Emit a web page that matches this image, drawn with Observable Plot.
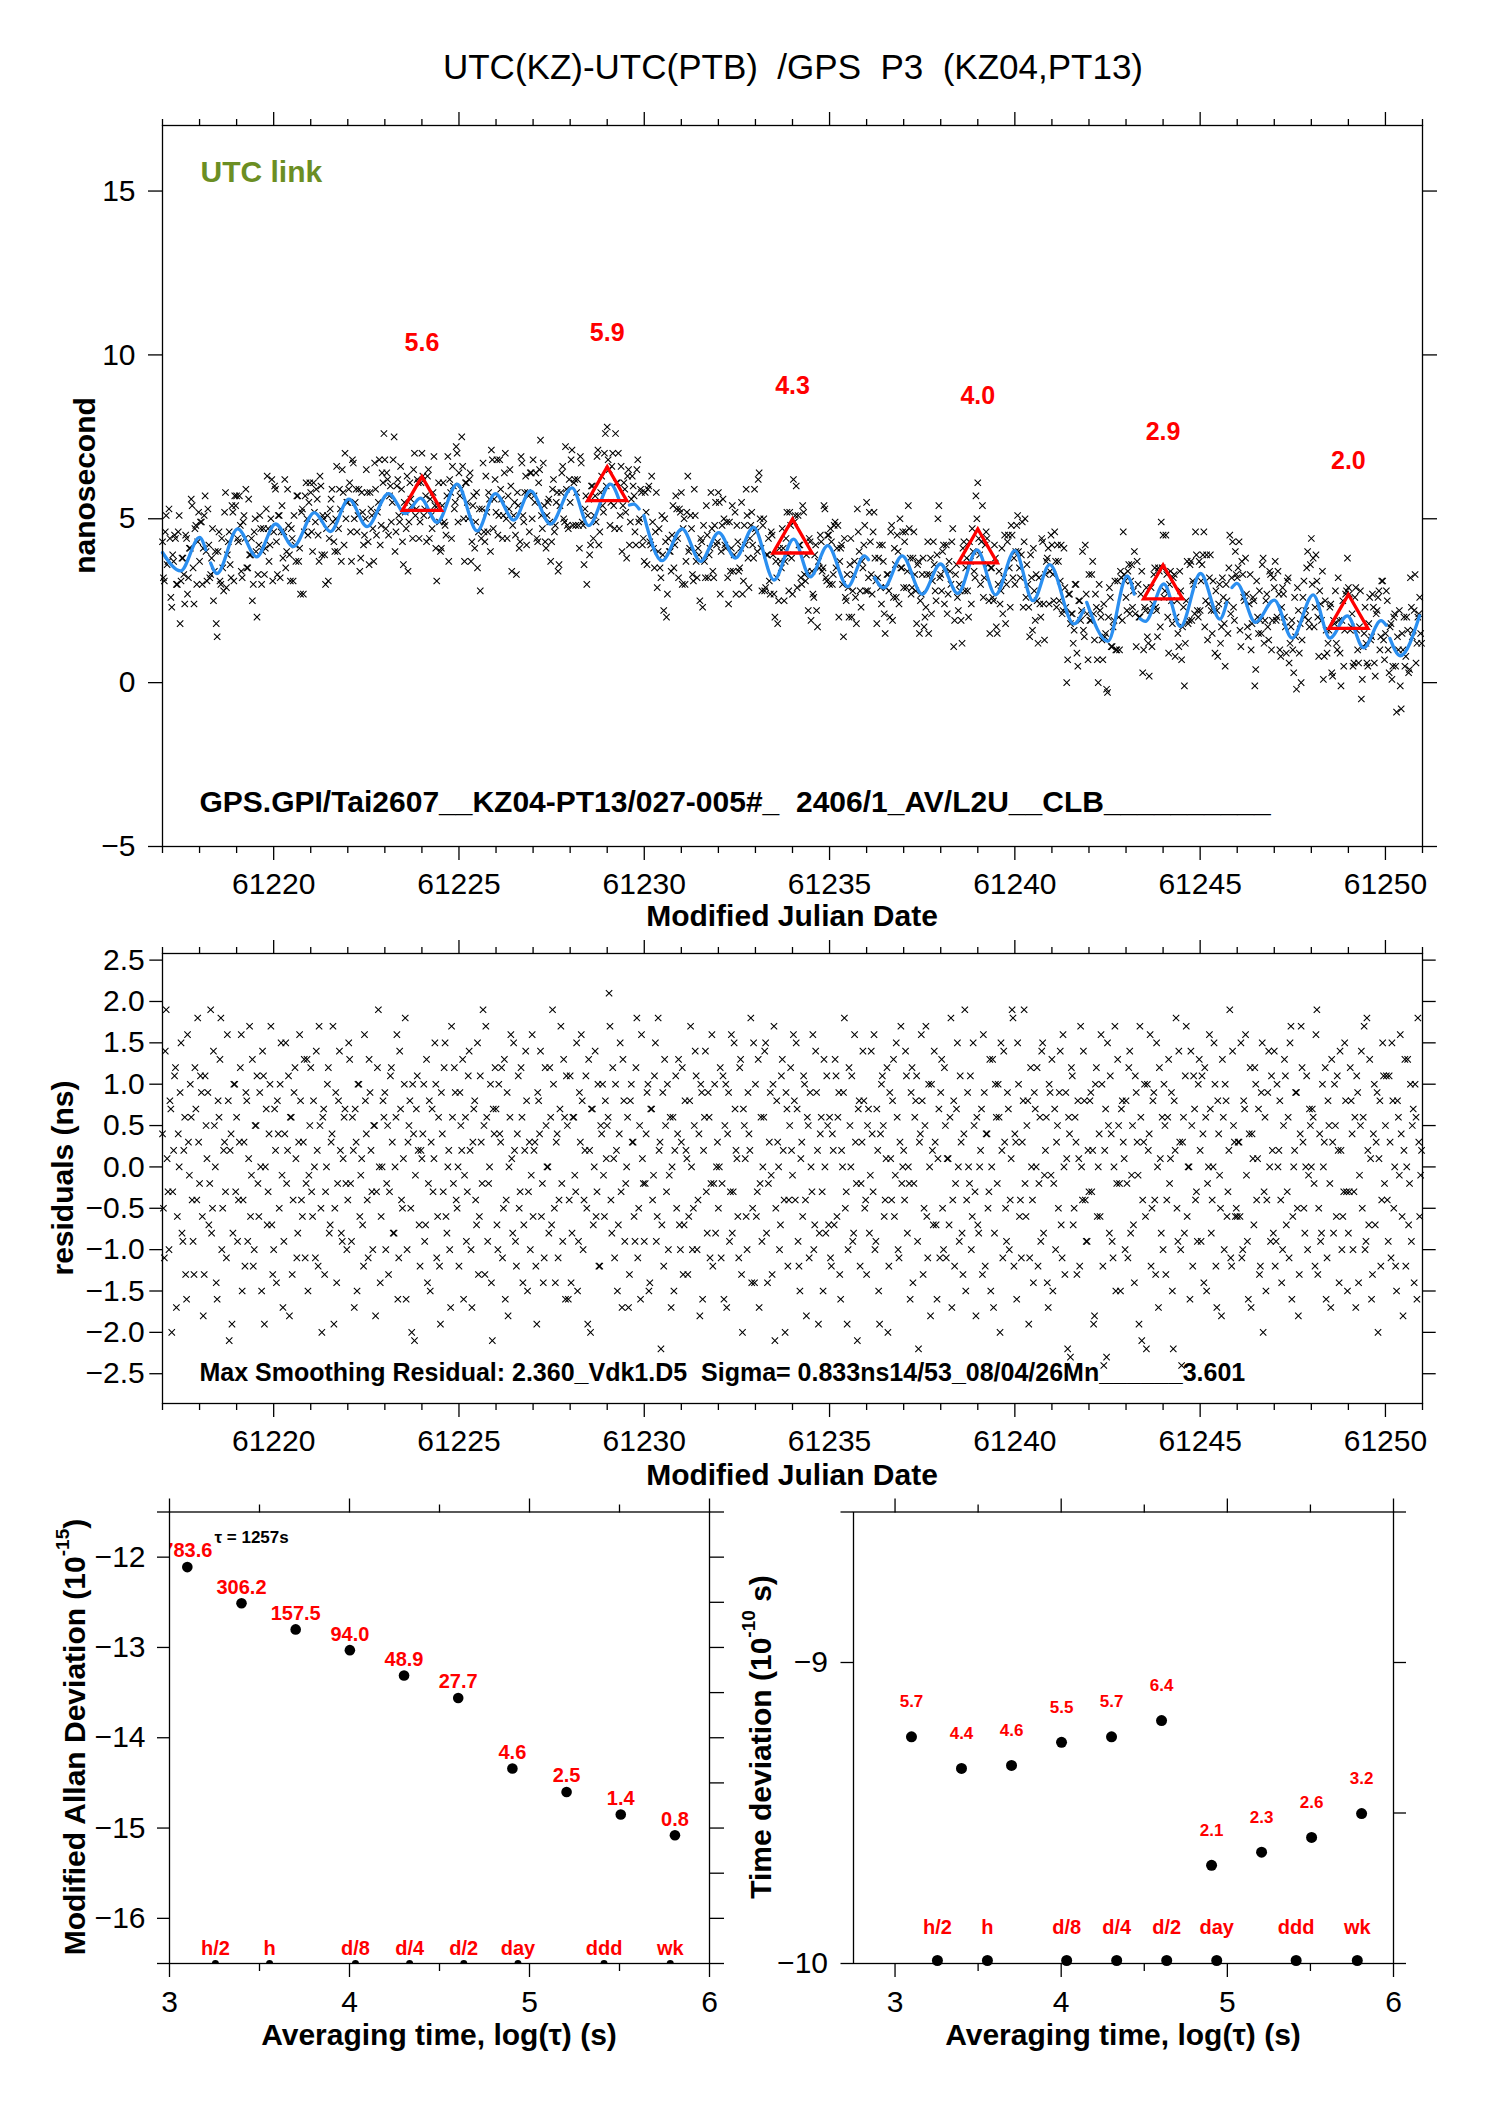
<!DOCTYPE html>
<html>
<head>
<meta charset="utf-8">
<script src="https://cdn.jsdelivr.net/npm/d3@7"></script>
<script src="https://cdn.jsdelivr.net/npm/@observablehq/plot@0.6"></script>
<style>
  body { margin: 0; background: #fff; }
  #wrap { position: relative; width: 1488px; height: 2105px; font-family: "Liberation Sans", Arial, Helvetica, sans-serif; color: #000; }
  #wrap svg { position: absolute; overflow: visible; }
  #wrap text { white-space: pre; }
  #title { position: absolute; left: 793px; top: 47px; transform: translateX(-50%); font-size: 35px; line-height: 40px; white-space: pre; }
</style>
</head>
<body>
<div id="wrap"><div id="title"></div></div>
<script>
// ---------------- text ----------------
const titleText = "UTC(KZ)-UTC(PTB)  /GPS  P3  (KZ04,PT13)";
const linkLabel = "UTC link";
const gpsNote = "GPS.GPI/Tai2607__KZ04-PT13/027-005#_  2406/1_AV/L2U__CLB__________";
const residNote = "Max Smoothing Residual: 2.360_Vdk1.D5  Sigma= 0.833ns14/53_08/04/26Mn______3.601";
const tauNote = "\u03c4 = 1257s";

// ---------------- ticks ----------------
const mjdMajor = [61220, 61225, 61230, 61235, 61240, 61245, 61250];
const mjdMinor = [61217, 61218, 61219, 61221, 61222, 61223, 61224, 61226, 61227, 61228, 61229, 61231, 61232, 61233, 61234, 61236, 61237, 61238, 61239, 61241, 61242, 61243, 61244, 61246, 61247, 61248, 61249, 61251];
const nsTicks = [-5, 0, 5, 10, 15];
const residTicks = [-2.5, -2, -1.5, -1, -0.5, 0, 0.5, 1, 1.5, 2, 2.5];
const logMajor = [3, 4, 5, 6];
const logMinor = [3.5, 4.5, 5.5];
const mdevTicks = [-16, -15, -14, -13, -12];
const mdevEnds = [-16.5, -11.5];
const mdevRight = [-16.5, -16, -15.5, -15, -14.5, -14, -13.5, -13, -12.5, -12, -11.5];
const tdevTicks = [-10, -9];
const tdevEnds = [-8.5];
const tdevRight = [-10, -9.5, -9, -8.5];

// ---------------- top panel data ----------------
// two interleaved sets of epochs: 20 per day from MJD 61217.000 and from 61217.025
const sampleStart = 61217;
const sampleStart2 = 61217.025;
const samplesPerDay = 20;
const topValues = [
  4.3,3.1,5.1,3.7,4.4,2.3,3.7,4.4,3.0,5.1,3.1,3.8,2.4,4.4,3.2,4.1,5.4,2.4,4.8,4.3,
  3.7,4.9,4.1,5.7,3.1,4.2,3.3,4.7,3.4,1.8,4.0,3.1,4.4,2.8,5.8,3.9,4.6,3.2,5.2,5.7,
  5.7,4.3,4.8,3.2,5.1,5.9,3.5,3.9,4.4,3.0,5.0,2.0,4.2,4.7,4.0,3.3,5.3,4.7,4.2,6.2,
  4.6,5.9,3.3,5.1,4.6,3.8,6.2,4.0,4.8,3.1,4.4,5.1,3.7,5.7,4.1,5.2,2.7,5.7,5.0,5.5,
  5.8,4.0,5.2,5.9,4.5,6.3,3.9,5.0,3.0,5.1,4.4,5.6,4.9,4.0,6.6,4.7,5.3,6.5,4.2,5.0,
  5.5,6.1,3.7,6.7,5.5,4.6,5.9,3.8,5.2,4.5,6.5,4.3,5.8,5.1,3.7,5.9,5.2,6.8,4.8,6.1,
  6.8,6.4,4.5,6.0,5.5,7.5,4.6,6.2,4.9,5.9,3.6,5.2,6.3,4.9,5.6,4.4,7.0,5.3,6.1,4.9,
  7.0,5.1,5.7,6.3,4.4,5.1,5.8,5.4,3.1,6.1,4.0,5.4,4.9,4.5,6.9,6.2,4.4,6.0,5.5,7.0,
  6.4,5.9,6.6,3.7,6.1,5.0,6.4,4.3,5.7,4.9,3.5,5.3,4.4,6.7,4.3,5.2,5.8,4.0,6.8,5.6,
  5.2,4.5,6.8,5.6,5.1,7.0,4.4,5.3,6.0,4.8,5.5,3.3,5.4,4.3,6.7,4.9,6.3,5.8,4.6,6.4,
  6.8,5.5,4.4,6.1,7.4,4.7,5.4,4.1,5.5,4.9,4.3,6.2,4.8,5.8,3.6,5.8,6.6,4.9,5.9,4.7,
  5.5,7.1,6.1,4.8,6.2,4.1,6.7,4.8,5.3,3.0,5.6,4.2,6.0,5.1,4.9,7.1,4.6,6.3,5.2,7.6,
  7.8,6.5,5.5,7.0,4.7,6.1,7.0,5.1,4.0,6.1,5.2,6.3,4.2,5.6,6.0,4.6,6.5,4.9,5.9,4.2,
  3.7,5.2,5.9,4.3,6.3,4.1,4.6,2.9,4.7,3.2,3.9,5.0,2.0,4.4,4.0,4.5,3.5,5.7,4.4,5.3,
  5.8,4.7,3.0,5.2,4.0,5.1,3.3,5.9,3.7,4.1,2.5,4.3,4.8,3.2,4.5,3.9,5.8,3.4,4.8,4.2,
  5.8,2.7,4.8,5.0,4.1,3.2,4.9,4.1,3.4,5.2,4.8,3.4,4.1,2.7,4.8,5.9,3.8,4.4,5.2,3.8,
  4.7,4.0,6.4,4.1,4.8,2.8,3.9,4.4,2.7,4.5,2.7,3.7,1.8,4.1,3.5,4.1,3.7,5.2,2.8,4.8,
  2.7,4.9,6.0,5.1,4.2,3.0,5.2,3.1,3.4,4.4,1.9,2.7,3.9,2.2,3.7,4.5,3.4,5.4,3.2,4.5,
  3.0,4.3,3.3,4.9,4.1,2.0,4.1,3.0,4.4,2.5,2.9,3.6,2.0,3.3,2.6,5.3,4.0,2.3,3.5,4.8,
  5.5,3.2,4.3,2.7,5.2,3.1,3.2,4.2,2.4,3.7,1.5,3.3,2.8,4.6,1.9,4.1,2.6,4.0,5.0,3.5,
  2.9,4.6,3.4,4.7,2.7,3.8,3.3,1.8,3.7,2.5,3.3,1.7,2.3,4.3,3.3,2.1,4.3,2.8,3.9,5.4,
  3.3,4.0,2.4,4.2,2.7,3.4,4.3,1.1,3.3,2.6,3.0,1.9,4.1,2.8,3.8,2.0,3.7,4.7,3.4,5.7,
  6.1,3.9,4.3,2.6,4.2,4.4,2.5,3.5,2.6,4.2,1.7,3.0,2.4,4.1,3.2,1.8,4.3,3.5,4.8,3.2,
  3.0,4.8,4.0,3.2,4.9,4.3,2.6,3.0,1.4,3.2,4.1,1.9,2.5,3.2,2.0,4.3,1.3,3.7,4.1,3.4,
  4.2,2.5,3.7,4.2,2.5,4.2,2.2,2.9,0.0,2.7,1.8,2.1,1.6,3.0,0.5,2.5,2.2,1.6,4.2,2.1,
  3.3,1.9,3.7,1.3,2.3,0.0,2.2,1.3,2.4,1.5,-0.3,2.9,1.1,1.7,3.1,1.0,2.0,3.4,1.9,3.3,
  2.6,3.4,2.1,3.6,2.8,2.1,3.7,2.0,2.7,0.3,2.3,2.9,1.2,2.2,1.1,3.3,2.3,1.4,3.4,4.9,
  4.5,2.8,3.3,0.9,3.4,1.8,3.3,2.0,1.5,3.4,0.7,2.3,1.2,3.7,1.9,3.7,3.1,2.1,3.9,2.0,
  2.2,3.6,4.6,2.5,1.3,3.2,2.2,3.1,0.9,2.2,2.4,1.2,3.2,1.8,3.0,1.5,4.5,3.2,2.3,4.0,
  3.2,4.3,1.1,3.3,2.5,2.7,1.4,3.3,1.8,2.5,0.4,2.0,2.8,1.5,3.8,1.9,2.7,1.3,3.3,1.9,
  2.9,1.9,3.4,1.0,2.3,2.7,1.7,3.1,0.6,1.7,1.0,2.6,-0.2,2.2,1.8,1.3,3.1,2.2,4.0,1.7,
  4.4,3.8,2.3,3.1,0.8,2.4,3.4,0.8,1.6,1.2,2.3,0.3,1.9,2.8,1.0,1.9,-0.1,2.5,1.6,2.8,
  2.9,1.6,2.1,0.6,2.9,1.0,1.7,-0.5,1.1,2.3,0.6,1.8,1.3,2.7,0.6,2.1,2.6,1.0,3.1,1.3,
  1.5,2.5,0.3,1.8,0.5,2.1,-0.9,1.0,-0.1,1.5,2.0,0.8,1.6,0.4,2.3,1.6,3.3,1.2,2.1,1.5
];
const topValues2 = [
  3.2,4.6,3.6,5.3,2.6,3.9,4.5,3.0,4.6,1.8,3.8,3.3,4.5,2.7,4.1,5.6,3.5,4.7,3.0,5.2,
  4.9,3.0,5.1,4.0,5.3,3.2,3.8,2.5,4.0,1.4,4.6,3.0,3.5,5.2,2.9,4.3,3.6,5.4,3.1,5.4,
  4.4,5.7,3.4,4.9,4.4,3.5,5.6,3.9,2.5,4.6,4.0,3.3,5.1,3.0,4.7,4.1,6.3,3.7,5.0,3.1,
  6.0,4.3,5.1,3.2,5.4,4.6,3.5,5.9,3.9,4.7,3.1,4.2,5.7,3.7,2.7,5.3,4.6,6.1,4.5,6.1,
  4.6,6.1,4.9,5.6,3.7,6.0,5.1,3.9,4.7,3.1,5.3,5.9,4.3,5.0,4.0,5.9,3.7,5.8,7.0,5.5,
  5.9,4.6,6.8,5.0,5.9,5.1,3.4,5.8,4.2,5.0,5.8,3.6,5.3,4.7,6.7,4.5,5.5,4.2,6.4,7.6,
  4.7,6.2,5.7,4.9,6.8,4.0,6.0,5.1,6.6,4.3,5.5,4.7,3.4,6.1,5.4,6.5,5.1,6.2,4.4,6.1,
  6.3,5.3,4.3,6.5,5.6,4.7,6.9,4.1,5.4,4.9,4.1,6.1,4.8,5.7,3.7,5.8,6.6,5.3,7.2,4.9,
  5.7,7.5,5.0,6.1,5.5,6.2,3.7,5.4,4.1,5.8,4.6,2.8,5.3,4.6,6.3,4.6,5.6,7.1,4.7,6.2,
  6.8,5.1,5.9,4.4,6.4,5.0,5.7,6.5,3.4,5.1,4.5,5.8,4.1,6.9,5.1,5.8,4.2,5.7,6.4,5.0,
  5.7,6.4,4.3,6.5,5.1,6.7,4.3,5.1,5.6,3.7,5.9,4.6,5.5,3.4,5.4,6.4,5.0,7.2,4.8,6.2,
  6.8,4.8,6.2,5.8,4.8,6.9,4.9,3.6,5.7,5.1,3.9,6.0,4.4,5.7,6.9,4.2,5.8,5.4,7.0,6.0,
  6.8,4.8,6.6,5.4,7.6,6.1,4.7,6.6,5.4,5.9,3.8,6.5,4.9,6.3,5.7,4.2,6.8,5.0,5.8,4.4,
  5.8,3.6,6.0,4.2,4.9,3.5,5.8,4.0,3.5,5.1,2.2,4.3,2.7,4.0,3.4,5.4,4.2,5.3,3.2,5.2,
  3.0,5.0,3.7,6.3,4.1,4.7,3.1,5.1,3.2,3.9,4.4,2.3,3.7,5.4,3.2,4.1,4.7,3.2,5.5,4.3,
  5.5,4.0,5.6,4.2,4.9,2.4,3.4,5.4,3.9,2.7,4.3,3.5,5.5,3.1,4.2,5.1,2.9,4.8,4.2,5.9,
  4.6,6.2,5.0,2.8,5.0,2.9,3.9,3.1,4.6,3.9,2.0,3.2,2.5,3.7,4.7,2.5,4.4,3.9,5.2,3.8,
  6.2,5.1,2.9,4.2,3.2,5.4,3.3,3.9,2.2,4.3,3.4,2.6,4.2,1.7,3.5,4.3,3.5,5.3,3.1,4.5,
  4.7,3.0,4.8,3.5,4.8,3.7,4.2,1.4,2.6,3.3,2.0,4.4,2.8,3.7,1.8,4.6,2.8,3.7,4.2,2.8,
  2.8,5.2,3.3,4.6,3.8,1.8,3.8,2.9,4.2,2.1,2.9,3.3,2.0,4.8,2.6,3.6,4.5,2.4,3.5,4.6,
  4.3,2.9,5.4,3.8,2.9,4.6,2.8,3.6,1.5,2.7,3.8,2.0,3.3,1.5,3.8,3.1,3.6,2.5,5.0,3.2,
  2.8,4.2,3.5,2.1,3.7,3.0,4.7,1.9,3.6,2.2,2.8,1.2,4.3,3.5,2.8,4.3,2.4,4.0,3.2,5.0,
  4.4,3.0,5.4,3.2,4.6,3.6,1.5,3.5,2.5,3.8,1.5,3.4,2.8,2.1,4.5,3.0,4.5,2.3,4.5,3.8,
  4.0,5.1,3.5,3.9,2.3,5.0,3.6,2.3,3.9,1.6,2.8,3.3,1.2,2.4,4.4,2.4,3.3,3.8,2.4,4.5,
  3.3,4.6,2.3,3.7,3.1,2.1,4.1,2.3,0.7,2.7,2.1,1.2,3.0,0.9,2.5,1.9,4.0,1.4,2.7,0.7,
  1.9,3.3,2.1,2.7,0.7,3.0,2.0,0.7,1.4,-0.2,2.0,2.6,1.1,1.9,1.0,3.1,1.0,3.2,4.6,3.1,
  2.2,3.6,3.1,2.3,4.0,1.1,3.0,2.0,3.4,1.0,2.2,1.4,0.2,2.9,2.4,3.5,2.2,3.5,1.7,3.5,
  2.6,4.5,2.0,3.0,2.5,3.2,0.8,2.5,1.1,2.8,1.7,-0.1,2.5,1.8,3.6,1.9,3.0,4.6,2.2,3.7,
  3.1,3.9,1.7,3.9,2.4,3.9,1.5,2.2,2.8,0.8,3.0,1.7,2.6,0.5,2.5,3.5,2.1,4.3,1.9,3.3,
  3.5,1.6,3.7,2.6,3.8,1.7,2.4,1.0,2.6,-0.1,3.1,1.5,1.9,3.6,1.2,2.5,1.7,3.4,1.0,3.2,
  3.7,2.0,2.7,0.8,2.9,2.0,0.9,3.2,1.2,1.9,0.3,1.4,2.9,0.9,0.0,2.6,2.0,3.5,1.9,3.6,
  3.0,1.7,3.9,2.0,2.8,1.9,0.1,2.5,0.9,1.6,2.4,0.2,1.8,1.2,3.2,0.9,1.9,0.5,2.7,3.8,
  2.7,1.7,0.5,2.6,1.6,0.6,2.8,0.1,1.5,1.2,0.5,2.6,1.4,2.3,0.2,2.2,2.8,1.4,3.1,0.7,
  2.8,1.0,1.7,0.1,2.0,0.5,1.4,2.2,-0.8,1.0,0.5,2.0,0.3,3.2,1.4,2.2,0.6,2.0,2.6,1.2
];

// smoothing curve (MJD, ns); NaN marks a break in the drawn line
const curveT = [61217.00,61217.49,61218.00,61218.17,NaN,61218.30,61218.47,61219.03,61219.54,61220.05,61220.53,61221.10,61221.53,61222.03,61222.52,61223.10,61223.56,61223.96,61224.41,61224.95,61225.49,61225.98,61226.48,61226.93,61227.47,61228.05,61228.50,61229.09,61229.33,NaN,61229.60,61229.72,61229.86,NaN,61229.99,61230.48,61231.02,61231.52,61232.01,61232.46,61232.95,61233.50,61234.03,61234.48,61234.95,61235.49,61235.94,61236.05,NaN,61236.22,61236.46,61236.96,61237.50,61237.99,61238.46,61238.98,61239.48,61240.00,61240.49,61240.94,61241.59,61241.86,NaN,61241.94,61242.51,61243.03,61243.22,NaN,61243.38,61243.52,61244.02,61244.47,61245.01,61245.53,61245.72,NaN,61245.86,61245.99,61246.49,61247.00,61247.48,61248.05,61248.50,61248.97,61249.41,61249.88,61250.02,NaN,61250.12,61250.40,61250.92];
const curveV = [3.97,3.41,4.43,4.05,NaN,3.65,3.33,4.69,3.84,4.84,4.15,5.19,4.61,5.60,4.76,5.77,5.16,5.63,4.89,6.06,4.63,5.77,4.96,5.85,4.84,5.94,4.79,6.06,5.55,NaN,5.42,5.45,5.30,NaN,5.10,3.72,4.69,3.70,4.58,3.80,4.74,3.13,4.38,3.23,4.18,2.93,3.87,3.75,NaN,3.20,2.89,3.87,2.70,3.62,2.72,4.05,2.68,4.03,2.50,3.60,1.79,2.22,NaN,2.45,1.26,3.26,2.70,NaN,1.95,1.87,3.01,1.71,3.33,1.94,2.45,NaN,2.90,3.03,1.84,2.52,1.36,2.68,1.36,2.04,1.06,1.89,1.75,NaN,1.35,0.82,2.04];

// red triangles and their labels
const triT = [61224, 61229, 61234, 61239, 61244, 61249];
const triV = [5.6, 5.9, 4.3, 4.0, 2.9, 2.0];
const triLabels = ["5.6", "5.9", "4.3", "4.0", "2.9", "2.0"];

// ---------------- residuals (same two sets of epochs) ----------------
const residValues = [
  0.4,-1.1,1.9,-0.3,0.8,-2.0,0.2,1.2,-0.6,0.0,1.5,-0.9,0.6,-1.6,0.3,1.0,-0.4,-1.3,0.7,1.8,
  -0.2,0.9,-1.8,1.1,0.1,-0.7,1.9,-0.5,0.5,-1.4,0.8,1.3,-1.0,0.2,-0.3,1.6,-2.1,0.4,-0.8,1.0,
  0.6,-0.4,1.2,-1.5,0.3,0.9,-0.9,1.7,-0.1,-1.2,0.5,1.1,-0.6,0.0,1.4,-1.9,0.7,-0.3,1.0,-0.7,
  -1.0,0.2,0.8,-0.5,1.5,-1.7,0.4,-0.2,1.1,0.6,-1.3,0.9,0.1,-0.8,1.6,-0.4,0.3,-1.1,1.3,-0.1,
  1.2,-0.6,0.0,1.4,-1.2,0.5,-2.0,0.7,-0.3,1.0,-0.8,0.3,1.7,-0.5,-1.4,0.8,0.2,-0.9,0.6,-0.2,
  -0.4,1.3,-0.9,0.2,0.7,-1.5,1.0,-0.1,-0.7,1.6,0.4,-1.1,0.9,-0.3,0.5,-1.8,1.2,0.0,-0.6,0.8,
  0.9,-0.2,-1.3,1.1,0.3,-0.8,0.6,-1.6,1.4,-0.4,0.1,1.8,-1.0,0.5,-0.5,1.0,-2.1,0.7,0.2,-1.2,
  0.1,1.0,-0.7,-1.4,0.8,0.3,-0.3,1.5,-1.1,0.6,-1.9,0.4,1.2,-0.6,0.0,-1.0,1.7,-0.2,0.9,-0.5,
  -1.2,0.5,1.3,-0.1,-0.9,1.1,0.2,-1.7,0.7,-0.4,1.5,-0.6,0.3,1.9,-1.3,0.6,-0.2,1.0,-2.1,0.4,
  0.7,-1.0,0.4,1.2,-0.5,-1.6,0.9,0.0,1.6,-0.8,0.2,-1.2,1.1,-0.3,0.6,-0.7,1.4,-1.5,0.3,-0.1,
  -0.6,0.3,-1.9,0.8,1.4,-0.2,-1.1,0.5,0.0,1.2,-0.7,1.0,-1.4,0.4,-0.4,1.7,-0.9,0.6,1.1,-1.6,
  1.1,-0.8,0.6,-0.3,-1.5,0.9,1.6,-1.0,0.2,-0.5,1.3,-2.0,0.7,0.0,-0.6,1.0,-1.2,0.4,-0.1,0.8,
  0.5,2.1,-0.4,1.2,-1.1,0.2,-0.7,1.5,-1.7,0.8,-0.2,0.6,-1.3,1.0,0.3,-0.9,1.8,-0.5,-1.6,0.1,
  -0.9,0.4,1.0,-1.4,0.7,-0.1,1.5,-0.6,0.2,-2.2,0.9,1.3,-0.3,-1.0,0.6,0.0,-1.5,1.1,0.4,-0.7,
  0.3,-1.3,0.8,0.1,-0.6,1.7,-1.0,0.5,1.1,-0.4,-1.8,0.9,0.2,1.4,-0.8,0.6,-0.2,-1.2,1.0,0.0,
  -0.5,1.2,-0.2,-1.6,1.0,0.4,-0.9,1.6,-0.3,0.7,0.1,-1.1,1.3,-2.0,0.5,-0.6,0.9,0.2,-1.4,1.5,
  1.0,-0.3,-1.7,0.6,0.0,1.4,-0.8,-0.2,0.9,-1.3,1.7,-0.5,0.3,-1.0,1.1,0.2,-2.0,0.7,-0.4,1.2,
  -0.1,0.8,1.5,-0.9,-1.5,0.3,1.1,-0.4,0.6,-1.1,0.0,1.6,-0.7,0.9,-1.9,0.4,-0.3,1.3,-0.8,0.5,
  0.6,-1.2,0.2,1.3,-0.6,0.9,-1.6,0.0,1.8,-0.3,-1.0,0.5,1.1,-0.8,0.3,-2.1,0.8,-0.2,1.4,-0.5,
  -1.3,0.7,-0.1,0.4,1.6,-0.9,0.2,-1.9,1.0,0.5,-0.4,1.2,-1.2,0.1,0.8,-0.6,1.5,-1.0,0.3,-0.2,
  0.2,1.4,-0.8,-0.2,0.9,-1.4,0.6,1.1,-2.2,0.4,0.8,-0.5,1.7,-1.1,0.0,1.0,-0.7,0.3,-1.6,0.7,
  0.9,-0.5,1.2,-1.1,0.1,0.6,-1.7,0.8,-0.2,1.5,-0.9,0.3,-1.3,1.9,-0.4,0.0,1.1,-0.6,0.5,-1.8,
  -0.7,0.0,0.7,1.6,-1.2,0.4,-0.3,-1.5,1.3,-0.8,0.6,1.0,-2.0,0.2,1.4,-0.5,0.9,-1.0,0.1,1.8,
  0.4,-1.6,1.0,-0.4,0.3,1.9,-0.6,0.8,-1.1,0.0,-1.4,0.7,1.2,-0.2,-0.9,1.5,-0.1,0.6,-1.7,0.9,
  1.3,-0.2,-1.0,0.5,0.9,-0.7,1.6,-1.3,0.1,0.6,-2.3,1.1,-0.5,0.3,0.8,-1.2,0.0,1.4,-0.4,-0.9,
  -0.3,0.9,0.2,-1.8,1.2,0.0,-0.6,1.0,-2.4,0.7,1.5,-0.8,0.4,-1.1,1.7,-0.2,0.5,-1.5,0.8,0.1,
  0.8,-1.1,1.4,-0.1,-0.7,1.1,0.3,-1.9,0.6,-0.4,1.0,-2.2,0.2,1.6,-0.5,0.9,-1.3,0.0,1.2,-0.8,
  -1.0,0.5,-0.4,1.3,0.1,-1.5,0.8,1.8,-0.9,0.3,-2.4,0.6,1.1,-0.6,0.0,1.4,-1.2,0.7,-0.3,1.0,
  0.2,1.1,-1.4,0.6,-0.2,1.6,-0.8,0.0,1.0,-1.7,0.4,-0.5,1.3,-1.0,0.8,-0.3,1.9,-1.2,0.5,-0.6,
  -0.6,0.3,1.5,-1.0,0.7,-0.1,-1.6,1.2,0.4,-0.7,1.0,0.1,-1.3,0.9,-2.0,0.6,-0.4,1.4,-0.9,0.2,
  1.4,-0.9,0.0,0.8,-1.4,0.5,1.1,-0.3,-1.1,1.7,-0.6,0.2,0.9,-1.8,0.4,1.2,-0.5,0.0,-1.0,0.7,
  0.0,0.6,-1.2,1.9,-0.5,-0.9,1.0,0.3,-1.6,0.8,-0.2,1.3,-0.8,0.5,1.1,-1.4,0.2,-0.6,1.5,-0.3,
  -0.8,1.2,0.4,-0.3,-1.7,0.9,-0.1,1.4,0.6,-1.0,1.8,-0.7,0.1,-1.3,1.0,0.3,-2.0,0.8,-0.4,1.1,
  0.5,-0.4,1.1,-1.1,0.8,0.0,-1.5,0.6,1.6,-0.6,0.2,-1.2,1.3,-0.2,-0.9,0.7,1.0,-1.6,0.3,-0.1
];
const residValues2 = [
  -0.5,1.4,0.1,-1.0,0.7,-0.3,1.1,-1.7,0.4,0.9,-0.8,0.2,-1.3,1.6,-0.1,0.6,-0.9,1.2,-0.4,0.3,
  1.1,-0.6,-1.3,0.5,0.9,-0.2,-0.8,1.4,0.0,-1.6,0.6,1.8,-0.5,0.3,-1.1,0.8,0.2,-1.9,1.0,-0.3,
  -0.9,0.3,1.6,-0.4,-1.2,0.8,0.1,-0.6,1.3,-1.0,0.5,-0.2,0.9,-1.5,1.1,0.0,-0.7,0.4,1.7,-1.3,
  0.7,-1.4,0.4,1.0,-0.1,-0.9,1.5,0.2,-1.8,0.6,-0.4,1.2,-1.1,0.3,0.8,-0.6,1.3,-0.2,-1.5,0.5,
  -0.3,0.8,-1.1,0.2,1.7,-0.5,0.6,-1.3,0.0,1.2,-0.7,0.4,-1.9,0.9,-0.2,1.4,-0.8,0.1,0.7,-1.0,
  1.5,-0.2,0.6,-1.7,0.3,1.0,-0.6,0.1,-1.2,0.8,-0.4,1.3,0.2,-1.0,0.5,-0.3,1.9,-1.4,0.0,0.6,
  -1.0,0.5,-0.3,1.2,-0.8,0.0,1.6,-1.1,0.7,-0.5,1.0,-1.6,0.3,0.8,-2.0,0.4,-0.1,1.1,-0.7,0.2,
  0.4,-0.9,1.3,-0.2,-1.5,0.7,0.1,1.0,-0.6,-1.2,0.9,-0.3,1.5,-0.8,0.2,-1.7,0.6,1.2,-0.4,0.0,
  0.9,0.2,-1.6,0.6,-0.3,1.4,-1.0,0.3,0.8,-0.7,-1.3,1.1,-0.2,0.5,1.7,-0.9,0.0,-1.4,0.7,1.2,
  -0.7,1.0,0.3,-1.1,1.3,-0.4,-1.8,0.6,0.1,1.5,-0.9,0.4,-0.5,1.2,-1.4,0.2,0.8,-0.3,-1.0,1.6,
  0.2,-1.2,0.9,0.4,-0.6,-1.4,1.2,0.0,-0.8,0.6,1.9,-0.5,0.3,-1.1,0.7,-0.2,1.3,-1.6,0.5,-0.4,
  -1.4,0.6,-0.1,1.5,-0.9,0.3,0.8,-0.4,1.1,-1.9,0.2,0.7,-0.7,1.4,-0.3,-1.2,0.5,1.0,-0.6,0.1,
  0.6,1.7,-0.8,0.1,1.0,-1.5,0.4,-0.3,1.3,-0.9,0.0,-1.7,0.8,0.3,-0.6,1.2,-1.1,0.5,1.6,-0.2,
  -0.2,0.9,-1.5,0.7,-0.4,1.1,-0.9,1.8,0.3,-0.7,-1.2,0.5,1.0,-0.1,-1.7,0.6,0.2,-0.5,1.3,-1.0,
  1.2,-0.7,0.2,-1.3,0.8,0.0,-0.5,1.4,-1.0,0.4,1.0,-1.6,0.6,-0.3,0.9,-1.1,1.6,-0.2,-0.8,0.3,
  0.0,-1.1,1.1,0.5,-1.7,0.9,-0.3,-0.8,1.5,0.2,-0.6,1.2,-1.3,0.7,0.1,-1.0,0.4,1.8,-0.5,-1.4,
  -0.6,1.3,-0.2,-0.9,0.6,1.5,-1.4,0.3,-0.1,1.0,-2.1,0.8,0.0,-0.7,1.3,-0.4,0.9,-1.2,0.5,0.2,
  1.6,-0.4,0.7,-1.2,0.1,-0.6,1.0,-1.8,0.5,0.9,-0.3,-1.0,1.4,0.2,-0.8,0.6,-1.5,0.0,1.1,-0.7,
  -1.1,0.4,-0.7,1.1,0.6,-1.3,0.2,0.9,-0.5,-1.9,1.2,0.0,-0.9,1.6,-0.2,0.7,-1.2,0.3,0.8,-0.4,
  0.5,-0.8,1.4,-0.3,-1.0,0.7,-1.5,0.4,1.1,-0.6,0.1,-2.0,0.9,-0.4,1.3,-0.1,0.6,-1.1,1.7,0.0,
  -0.4,1.1,0.0,-1.6,1.2,-0.2,0.8,-0.9,0.3,1.6,-1.3,0.5,-0.6,1.0,-1.8,0.2,1.4,-0.7,0.1,-1.1,
  1.3,-1.0,0.5,0.1,-0.7,1.8,-0.4,-1.2,0.7,0.0,1.1,-0.8,0.4,-1.5,0.9,-0.2,-1.0,1.5,-0.3,0.6,
  -0.8,0.2,-1.3,0.9,0.4,-0.5,1.3,0.0,-1.7,1.0,-0.2,0.6,1.5,-1.1,0.3,-0.9,0.7,-0.4,1.9,-1.2,
  0.3,1.5,-0.6,-1.1,0.8,-0.2,0.5,-1.9,1.2,-0.4,0.9,0.0,-1.2,0.6,1.4,-0.8,0.2,-1.4,1.0,-0.1,
  -1.5,0.7,0.3,-0.5,1.4,-1.1,0.0,0.9,-2.2,0.4,1.2,-0.7,0.6,-1.3,0.1,1.7,-0.4,0.8,-0.9,0.2,
  0.8,-0.3,-1.9,1.0,-0.6,0.4,1.6,-1.2,0.2,-2.3,0.5,1.1,-0.9,0.0,-1.5,1.3,-0.2,0.7,0.3,-1.0,
  -0.2,1.2,-0.8,0.5,-1.4,0.9,-0.1,1.7,-2.1,0.3,-0.6,1.0,0.4,-1.2,0.8,-0.4,1.5,-1.7,0.1,0.6,
  1.0,-1.3,0.6,-0.2,0.9,-2.2,0.2,-0.5,1.4,-1.0,0.3,-0.8,1.7,0.0,-1.6,0.5,1.1,-0.4,-0.9,1.3,
  -0.9,0.4,1.2,-1.5,0.0,0.7,-0.4,1.5,-1.2,0.8,-0.1,-1.8,0.6,1.0,-0.6,0.2,-1.1,1.4,0.3,-0.5,
  0.3,-0.6,-1.1,0.8,1.6,-0.9,0.4,-1.7,0.1,1.2,-0.4,0.7,-1.2,1.5,-0.3,-1.5,0.9,0.0,1.1,-0.8,
  -1.2,1.0,0.2,-0.4,-1.0,1.3,-0.7,0.6,1.5,-1.6,0.0,0.9,-0.5,-1.3,1.7,0.3,-0.8,1.1,-0.1,0.5,
  0.7,-0.2,1.6,-1.3,0.4,-0.8,0.0,1.2,-1.1,0.5,-1.7,0.3,1.0,-0.6,0.2,1.4,-1.0,-0.3,0.8,-1.5,
  -0.3,0.8,-1.0,0.6,1.1,-1.4,0.5,-0.5,1.7,-0.9,0.2,1.3,-1.6,0.4,-0.7,0.9,0.1,-1.2,1.5,-0.2,
  1.1,-0.9,0.3,1.5,-0.5,-1.2,0.8,-0.1,0.4,-1.8,1.3,0.0,-0.7,1.0,0.5,-1.4,0.6,1.8,-0.6,0.2
];

// ---------------- stability panels ----------------
const tauLog = [3.099, 3.400, 3.701, 4.002, 4.303, 4.604, 4.905, 5.206, 5.507, 5.808];
const mdevLog = [-12.11, -12.51, -12.80, -13.03, -13.31, -13.56, -14.34, -14.60, -14.85, -15.08];
const mdevLabels = ["783.6", "306.2", "157.5", "94.0", "48.9", "27.7", "4.6", "2.5", "1.4", "0.8"];
const tdevLog = [-9.247, -9.352, -9.342, -9.265, -9.247, -9.193, -9.674, -9.630, -9.581, -9.502];
const tdevLabels = ["5.7", "4.4", "4.6", "5.5", "5.7", "6.4", "2.1", "2.3", "2.6", "3.2"];
const periodLog = [3.255, 3.556, 4.033, 4.334, 4.635, 4.936, 5.414, 5.782];
const periodLabels = ["h/2", "h", "d/8", "d/4", "d/2", "day", "ddd", "wk"];

// ---------------- drawing ----------------
const FONT = '"Liberation Sans", Arial, Helvetica, sans-serif';
const BLUE = "#2b8ff0";
const OLIVE = "#6b8e23";
const TICK_FONT = 30;
const blank = () => "";
const wrap = document.getElementById("wrap");
document.getElementById("title").textContent = titleText;
const sampleT = (d, i) => sampleStart + i / samplesPerDay;
const sampleT2 = (d, i) => sampleStart2 + i / samplesPerDay;

function place(svg, left, top) {
  svg.style.left = left + "px";
  svg.style.top = top + "px";
  wrap.appendChild(svg);
  return svg;
}
function addLabel(svg, x, y, parts, rotate) {
  const t = d3.select(svg).append("text")
    .attr("x", x).attr("y", y)
    .attr("text-anchor", "middle").attr("dominant-baseline", "central")
    .attr("font-family", FONT).attr("font-size", 30).attr("font-weight", "bold").attr("fill", "black");
  if (rotate) t.attr("transform", `rotate(-90 ${x} ${y})`);
  for (const p of parts) {
    const s = t.append("tspan").text(p.text);
    if (p.size) s.attr("font-size", p.size);
    if (p.dy) s.attr("dy", p.dy);
  }
}
function mjdAxes() {
  return [
    Plot.axisX({anchor: "bottom", ticks: mjdMajor, tickSize: 14, tickPadding: 12, tickFormat: d3.format("d"), label: null, fontSize: TICK_FONT, strokeWidth: 1.3}),
    Plot.axisX({anchor: "bottom", ticks: mjdMinor, tickSize: 7, tickFormat: blank, label: null, strokeWidth: 1.3}),
    Plot.axisX({anchor: "top", ticks: mjdMajor, tickSize: 14, tickFormat: blank, label: null, strokeWidth: 1.3}),
    Plot.axisX({anchor: "top", ticks: mjdMinor, tickSize: 7, tickFormat: blank, label: null, strokeWidth: 1.3})
  ];
}
function logAxes() {
  return [
    Plot.axisX({anchor: "bottom", ticks: logMajor, tickSize: 14, tickPadding: 13, tickFormat: d3.format("d"), label: null, fontSize: TICK_FONT, strokeWidth: 1.3}),
    Plot.axisX({anchor: "bottom", ticks: logMinor, tickSize: 8, tickFormat: blank, label: null, strokeWidth: 1.3}),
    Plot.axisX({anchor: "top", ticks: logMajor, tickSize: 14, tickFormat: blank, label: null, strokeWidth: 1.3}),
    Plot.axisX({anchor: "top", ticks: logMinor, tickSize: 8, tickFormat: blank, label: null, strokeWidth: 1.3})
  ];
}
const baseStyle = {fontFamily: FONT, fontSize: "30px", background: "transparent", color: "black", overflow: "visible"};
const crossStyle = {symbol: "times", r: 3, stroke: "black", strokeWidth: 1.05};

// top panel
const topPlot = Plot.plot({
  width: 1488, height: 940,
  marginLeft: 162, marginRight: 66, marginTop: 125, marginBottom: 94,
  x: {domain: [61217, 61251]},
  y: {domain: [-5, 17]},
  style: baseStyle,
  marks: [
    ...mjdAxes(),
    Plot.axisY({anchor: "left", ticks: nsTicks, tickSize: 14, tickPadding: 13, tickFormat: d3.format("d"), label: null, fontSize: TICK_FONT, strokeWidth: 1.3}),
    Plot.axisY({anchor: "right", ticks: nsTicks, tickSize: 14, tickFormat: blank, label: null, strokeWidth: 1.3}),
    Plot.dot(topValues, {x: sampleT, y: d => d, ...crossStyle}),
    Plot.dot(topValues2, {x: sampleT2, y: d => d, ...crossStyle}),
    Plot.line(curveT, {x: d => d, y: (d, i) => curveV[i], stroke: BLUE, strokeWidth: 3.3, curve: "monotone-x"}),
    Plot.dot(triT, {x: d => d, y: (d, i) => triV[i], symbol: "triangle", r: 14.5, stroke: "red", strokeWidth: 3.3, fill: "none"}),
    Plot.text(triT, {x: d => d, y: (d, i) => triV[i], text: (d, i) => triLabels[i], dy: -156, fill: "red", fontWeight: "bold", fontSize: 25}),
    Plot.text([linkLabel], {text: d => d, frameAnchor: "top-left", dx: 38, dy: 47, textAnchor: "start", lineAnchor: "middle", fill: OLIVE, fontWeight: "bold", fontSize: 30}),
    Plot.text([gpsNote], {text: d => d, frameAnchor: "bottom-left", dx: 37, dy: -44, textAnchor: "start", lineAnchor: "middle", fill: "black", fontWeight: "bold", fontSize: 30}),
    Plot.frame({stroke: "black", strokeWidth: 1.3})
  ]
});
place(topPlot, 0, 0);
addLabel(topPlot, 84, 485.5, [{text: "nanosecond"}], true);
addLabel(topPlot, 792, 915, [{text: "Modified Julian Date"}], false);

// residual panel
const residPlot = Plot.plot({
  width: 1488, height: 560,
  marginLeft: 162, marginRight: 66, marginTop: 13, marginBottom: 97,
  x: {domain: [61217, 61251]},
  y: {domain: [-2.86, 2.58]},
  style: baseStyle,
  marks: [
    ...mjdAxes(),
    Plot.axisY({anchor: "left", ticks: residTicks, tickSize: 12.7, tickPadding: 5, tickFormat: d3.format(".1f"), label: null, fontSize: TICK_FONT, strokeWidth: 1.3}),
    Plot.axisY({anchor: "right", ticks: residTicks, tickSize: 12.7, tickFormat: blank, label: null, strokeWidth: 1.3}),
    Plot.dot(residValues, {x: sampleT, y: d => d, ...crossStyle}),
    Plot.dot(residValues2, {x: sampleT2, y: d => d, ...crossStyle}),
    Plot.text([residNote], {text: d => d, frameAnchor: "bottom-left", dx: 37, dy: -31, textAnchor: "start", lineAnchor: "middle", fill: "black", fontWeight: "bold", fontSize: 25}),
    Plot.frame({stroke: "black", strokeWidth: 1.3})
  ]
});
place(residPlot, 0, 940);
addLabel(residPlot, 62, 238, [{text: "residuals (ns)"}], true);
addLabel(residPlot, 792, 534, [{text: "Modified Julian Date"}], false);

// modified Allan deviation panel
const mdevPlot = Plot.plot({
  width: 740, height: 605,
  marginLeft: 169, marginRight: 31, marginTop: 11.5, marginBottom: 142,
  x: {domain: [3, 6]},
  y: {domain: [-16.5, -11.5]},
  style: baseStyle,
  marks: [
    ...logAxes(),
    Plot.axisY({anchor: "left", ticks: mdevTicks, tickSize: 12, tickPadding: 12, tickFormat: d3.format("d"), label: null, fontSize: TICK_FONT, strokeWidth: 1.3}),
    Plot.axisY({anchor: "left", ticks: mdevEnds, tickSize: 12, tickFormat: blank, label: null, strokeWidth: 1.3}),
    Plot.axisY({anchor: "right", ticks: mdevRight, tickSize: 14, tickFormat: blank, label: null, strokeWidth: 1.3}),
    Plot.dot(tauLog, {x: d => d, y: (d, i) => mdevLog[i], r: 5.3, fill: "black"}),
    Plot.text(tauLog, {x: d => d, y: (d, i) => mdevLog[i], text: (d, i) => mdevLabels[i], dy: -16, fill: "red", fontWeight: "bold", fontSize: 20, clip: true}),
    Plot.text([tauNote], {text: d => d, frameAnchor: "top-left", dx: 45, dy: 25.5, textAnchor: "start", lineAnchor: "middle", fill: "black", fontWeight: "bold", fontSize: 17}),
    Plot.dot(periodLog, {x: d => d, y: () => -16.5, r: 3.5, fill: "black", clip: true}),
    Plot.text(periodLog, {x: d => d, y: () => -16.5, text: (d, i) => periodLabels[i], dy: -15, fill: "red", fontWeight: "bold", fontSize: 20}),
    Plot.frame({stroke: "black", strokeWidth: 1.3})
  ]
});
place(mdevPlot, 0, 1500);
addLabel(mdevPlot, 73.5, 237, [{text: "Modified Allan Deviation (10"}, {text: "-15", size: 19, dy: -12}, {text: ")", dy: 12}], true);
addLabel(mdevPlot, 439, 534, [{text: "Averaging time, log(\u03c4) (s)"}], false);

// time deviation panel
const tdevPlot = Plot.plot({
  width: 748, height: 605,
  marginLeft: 113, marginRight: 95, marginTop: 11.5, marginBottom: 142,
  x: {domain: [2.75, 6]},
  y: {domain: [-10, -8.5]},
  style: baseStyle,
  marks: [
    ...logAxes(),
    Plot.axisY({anchor: "left", ticks: tdevTicks, tickSize: 12.5, tickPadding: 13, tickFormat: d3.format("d"), label: null, fontSize: TICK_FONT, strokeWidth: 1.3}),
    Plot.axisY({anchor: "left", ticks: tdevEnds, tickSize: 12.5, tickFormat: blank, label: null, strokeWidth: 1.3}),
    Plot.axisY({anchor: "right", ticks: tdevRight, tickSize: 12, tickFormat: blank, label: null, strokeWidth: 1.3}),
    Plot.dot(tauLog, {x: d => d, y: (d, i) => tdevLog[i], r: 5.5, fill: "black"}),
    Plot.text(tauLog, {x: d => d, y: (d, i) => tdevLog[i], text: (d, i) => tdevLabels[i], dy: -35, fill: "red", fontWeight: "bold", fontSize: 17}),
    Plot.dot(periodLog, {x: d => d, y: () => -9.99, r: 5.5, fill: "black"}),
    Plot.text(periodLog, {x: d => d, y: () => -9.99, text: (d, i) => periodLabels[i], dy: -33, fill: "red", fontWeight: "bold", fontSize: 20}),
    Plot.frame({stroke: "black", strokeWidth: 1.3})
  ]
});
place(tdevPlot, 740, 1500);
addLabel(tdevPlot, 20, 237, [{text: "Time deviation (10"}, {text: "-10", size: 19, dy: -12}, {text: " s)", dy: 12}], true);
addLabel(tdevPlot, 383, 534, [{text: "Averaging time, log(\u03c4) (s)"}], false);
</script>
</body>
</html>
